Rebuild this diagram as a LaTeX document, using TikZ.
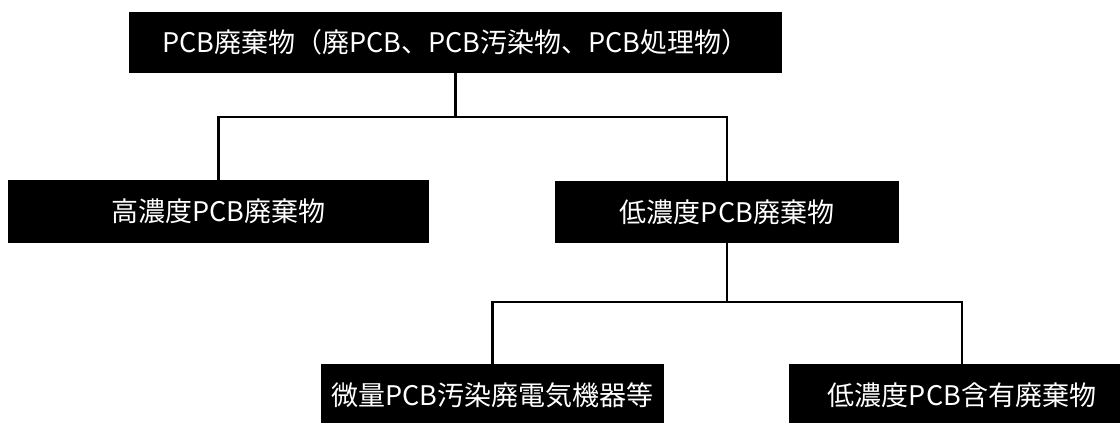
\documentclass[tikz,border=0pt]{standalone}
\usepackage{fontspec}
\setmainfont{Noto Sans CJK JP}
\begin{document}
\begin{tikzpicture}[x=1pt,y=1pt,
  box/.style={fill=black,draw=none,text=white,inner sep=0pt,align=center,
    font=\fontsize{27}{31}\selectfont},
  conn/.style={draw=black,line width=2.6pt}]
\useasboundingbox (0,0) rectangle (1120,-423);
\fill[white] (0,0) rectangle (1120,-423);
\node[box,minimum width=653,minimum height=61] (top) at (455.5,-42.5) {PCB廃棄物（廃PCB、PCB汚染物、PCB処理物）};
\node[box,minimum width=421,minimum height=63] (high) at (218.5,-211.5) {高濃度PCB廃棄物};
\node[box,minimum width=344,minimum height=62] (low) at (727,-212) {低濃度PCB廃棄物};
\node[box,minimum width=343,minimum height=63] (trace) at (492.5,-395.5) {微量PCB汚染廃電気機器等};
\node[box,minimum width=346,minimum height=63] (lowc) at (962,-395.5) {低濃度PCB含有廃棄物};
\coordinate (j1) at (455.5,-117);
\coordinate (j2) at (727,-302);
\draw[conn] (top.south) -- (j1);
\draw[conn] (high.north) |- (j1) -| (low.north);
\draw[conn] (low.south) -- (j2);
\draw[conn] (trace.north) |- (j2) -| (lowc.north);
\end{tikzpicture}
\end{document}
